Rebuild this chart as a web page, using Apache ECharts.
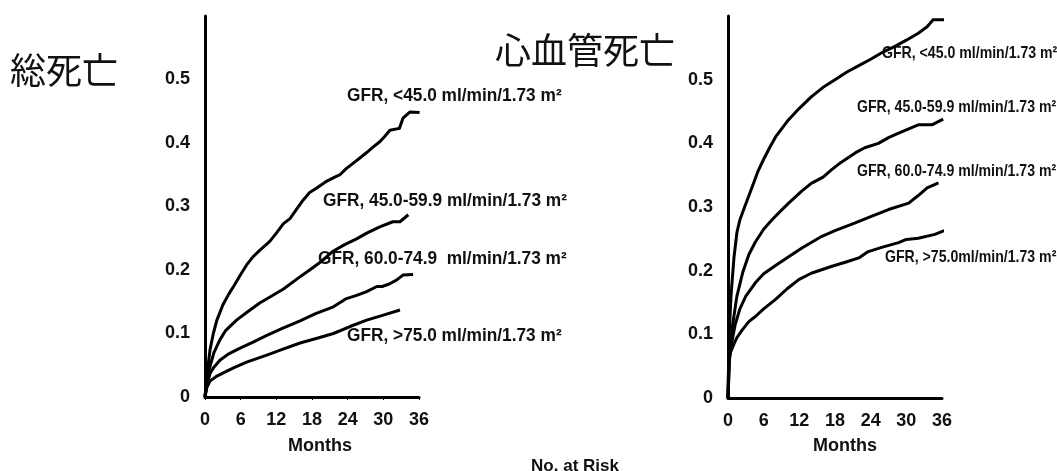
<!DOCTYPE html>
<html>
<head>
<meta charset="utf-8">
<script src="https://cdn.jsdelivr.net/npm/echarts@6/dist/echarts.min.js"></script>
<style>
html,body{margin:0;padding:0;background:#ffffff;}
#chart{width:1057px;height:471px;}
</style>
</head>
<body>
<div id="chart"></div>
<script>
// ---- Data (months, cumulative incidence) ----
const xTicks = [0, 6, 12, 18, 24, 30, 36];
const yTicks = [0, 0.1, 0.2, 0.3, 0.4, 0.5];

const panelTitles = ['総死亡', '心血管死亡'];
const groupNames = ['GFR, <45.0 ml/min/1.73 m²', 'GFR, 45.0-59.9 ml/min/1.73 m²', 'GFR, 60.0-74.9  ml/min/1.73 m²', 'GFR, >75.0 ml/min/1.73 m²'];
const groupNamesCV = ['GFR, <45.0 ml/min/1.73 m²', 'GFR, 45.0-59.9 ml/min/1.73 m²', 'GFR, 60.0-74.9 ml/min/1.73 m²', 'GFR, >75.0ml/min/1.73 m²'];

// Total mortality
const totalLt45 = [[0,0],[0.4,0.04],[0.84,0.074],[1.4,0.1],[2,0.121],[3,0.145],[4,0.162],[4.8,0.174],[6,0.193],[7,0.208],[8,0.22],[9.2,0.231],[10.9,0.245],[12,0.258],[13.2,0.273],[14.3,0.281],[15.5,0.297],[16.5,0.31],[17.6,0.322],[18.8,0.329],[20.5,0.34],[22,0.347],[22.7,0.35],[23.8,0.36],[24.9,0.368],[26,0.376],[27.2,0.385],[28.2,0.393],[29.4,0.402],[30.3,0.411],[31.1,0.42],[32.7,0.423],[33.3,0.439],[34.5,0.449],[36.1,0.448]];
const total45to60 = [[0,0],[0.3,0.025],[0.84,0.048],[1.5,0.07],[2.5,0.09],[3.5,0.105],[5.3,0.121],[7,0.133],[9.2,0.148],[11,0.158],[13.2,0.17],[15.5,0.186],[17.6,0.2],[19.5,0.213],[21.6,0.23],[23.5,0.24],[25.5,0.249],[27.2,0.258],[29.4,0.268],[31.6,0.276],[32.8,0.276],[34.2,0.287]];
const total60to75 = [[0,0],[0.3,0.018],[0.84,0.037],[1.5,0.047],[2.5,0.058],[4,0.068],[5.9,0.077],[8,0.086],[10.4,0.097],[13,0.108],[16,0.12],[18.5,0.131],[21.6,0.142],[23.8,0.155],[25.5,0.16],[27.2,0.166],[28.9,0.174],[29.8,0.174],[31,0.178],[32.2,0.184],[33.3,0.192],[35,0.193]];
const totalGt75 = [[0,0],[0.3,0.015],[0.84,0.025],[2,0.033],[3.5,0.04],[4.8,0.046],[7,0.055],[10.4,0.066],[13,0.075],[16,0.085],[19,0.093],[21.6,0.1],[24.4,0.111],[27.2,0.121],[30,0.129],[32.8,0.137]];

// Cardiovascular mortality
const cvLt45 = [[0,0],[0.2,0.1],[0.5,0.16],[1,0.22],[1.5,0.26],[2,0.28],[3,0.305],[4,0.33],[5,0.355],[6,0.375],[7,0.393],[8,0.41],[10,0.435],[12,0.455],[14,0.473],[16,0.488],[18,0.5],[20,0.512],[22,0.522],[24,0.532],[26,0.543],[28,0.552],[30,0.562],[32,0.573],[33.5,0.583],[34.5,0.594],[36.4,0.594]];
const cv45to60 = [[0,0],[0.3,0.07],[0.7,0.11],[1.5,0.16],[2.5,0.198],[3.5,0.225],[4.6,0.245],[6,0.265],[7.4,0.28],[9,0.295],[10.2,0.306],[12.4,0.325],[14,0.337],[16,0.347],[17.5,0.359],[19,0.37],[21.4,0.385],[23,0.393],[25.3,0.4],[27,0.409],[28.7,0.416],[30.5,0.423],[32,0.429],[34.3,0.429],[36.2,0.438]];
const cv60to75 = [[0,0],[0.2,0.06],[0.7,0.09],[1.2,0.115],[2,0.14],[3,0.16],[4.6,0.181],[6,0.195],[8,0.208],[10.2,0.222],[12.5,0.236],[15.8,0.254],[18,0.263],[21.4,0.275],[24,0.285],[27,0.296],[30.4,0.306],[32,0.318],[33.5,0.33],[35.4,0.338]];
const cvGt75 = [[0,0],[0.1,0.055],[0.4,0.071],[1,0.085],[1.5,0.095],[2.4,0.107],[3.5,0.12],[4.6,0.128],[6,0.14],[8,0.155],[10,0.172],[11.9,0.186],[14,0.196],[17.5,0.207],[20,0.214],[22,0.22],[23.6,0.23],[26,0.237],[28.7,0.244],[30,0.249],[32,0.251],[34.8,0.257],[36.4,0.263]];

const totalSeries = [totalLt45, total45to60, total60to75, totalGt75];
const cvSeries = [cvLt45, cv45to60, cv60to75, cvGt75];

// ---- Chart ----
const chart = echarts.init(document.getElementById('chart'), null, {renderer: 'canvas'});
const BOLD = 'Liberation Sans, Arial, sans-serif';
const CJK = 'Noto Sans CJK JP, sans-serif';

function xAxisCfg(idx, ticks) {
  return {
    type: 'value', gridIndex: idx, min: 0, max: 36, interval: 6,
    axisLine: {show: true, lineStyle: {color: '#000', width: 3}},
    axisTick: {show: ticks, length: 3, inside: false, lineStyle: {color: '#000', width: 1}},
    splitLine: {show: false},
    axisLabel: {color: '#111', fontSize: 18, fontWeight: 'bold', fontFamily: BOLD, margin: 14,
      formatter: v => xTicks.includes(v) ? String(v) : ''}
  };
}
function yAxisCfg(idx) {
  return {
    type: 'value', gridIndex: idx, min: 0, max: 0.6, interval: 0.1,
    axisLine: {show: true, lineStyle: {color: '#000', width: 3}},
    axisTick: {show: false},
    splitLine: {show: false},
    axisLabel: {color: '#111', fontSize: 18, fontWeight: 'bold', fontFamily: BOLD, margin: 15,
      formatter: v => {
        const t = yTicks.find(y => Math.abs(y - v) < 1e-9);
        if (t === undefined) return '';
        return t === 0 ? '0' : t.toFixed(1);
      }}
  };
}
function lineSeries(data, idx) {
  return {
    type: 'line', xAxisIndex: idx, yAxisIndex: idx, data: data,
    showSymbol: false, symbol: 'none', smooth: false, clip: false,
    lineStyle: {color: '#000', width: 3, join: 'round'}, silent: true
  };
}

const labelPosLeft = [[347, 96], [323, 201], [318, 259], [347, 336]];
const labelPosRight = [[882, 53], [857, 107], [857, 171], [885, 257]];

const graphics = [
  {type: 'text', left: 10, top: 52, style: {text: panelTitles[0], font: '36px ' + CJK, fill: '#111'}},
  {type: 'text', left: 495, top: 32, style: {text: panelTitles[1], font: '36px ' + CJK, fill: '#111'}},
  {type: 'text', x: 320, y: 446, style: {text: 'Months', font: 'bold 18px ' + BOLD, fill: '#111', align: 'center', verticalAlign: 'middle'}},
  {type: 'text', x: 845, y: 446, style: {text: 'Months', font: 'bold 18px ' + BOLD, fill: '#111', align: 'center', verticalAlign: 'middle'}},
  {type: 'text', x: 575, y: 466, style: {text: 'No. at Risk', font: 'bold 17px ' + BOLD, fill: '#111', align: 'center', verticalAlign: 'middle'}}
];
groupNames.forEach((n, i) => graphics.push({type: 'text', x: labelPosLeft[i][0], y: labelPosLeft[i][1], z: 1,
  scaleX: 0.96,
  style: {text: n, font: 'bold 18px ' + BOLD, fill: '#111', align: 'left', verticalAlign: 'middle'}}));
groupNamesCV.forEach((n, i) => graphics.push({type: 'text', x: labelPosRight[i][0], y: labelPosRight[i][1], z: 1,
  scaleX: 0.83,
  style: {text: n, font: 'bold 17px ' + BOLD, fill: '#111', align: 'left', verticalAlign: 'middle'}}));

chart.setOption({
  backgroundColor: '#ffffff',
  animation: false,
  grid: [
    {left: 205, top: 16, width: 214, height: 381},
    {left: 728, top: 16, width: 214, height: 382}
  ],
  xAxis: [xAxisCfg(0, true), xAxisCfg(1, false)],
  yAxis: [yAxisCfg(0), yAxisCfg(1)],
  series: totalSeries.map(d => lineSeries(d, 0)).concat(cvSeries.map(d => lineSeries(d, 1))),
  graphic: graphics
});
</script>
</body>
</html>
